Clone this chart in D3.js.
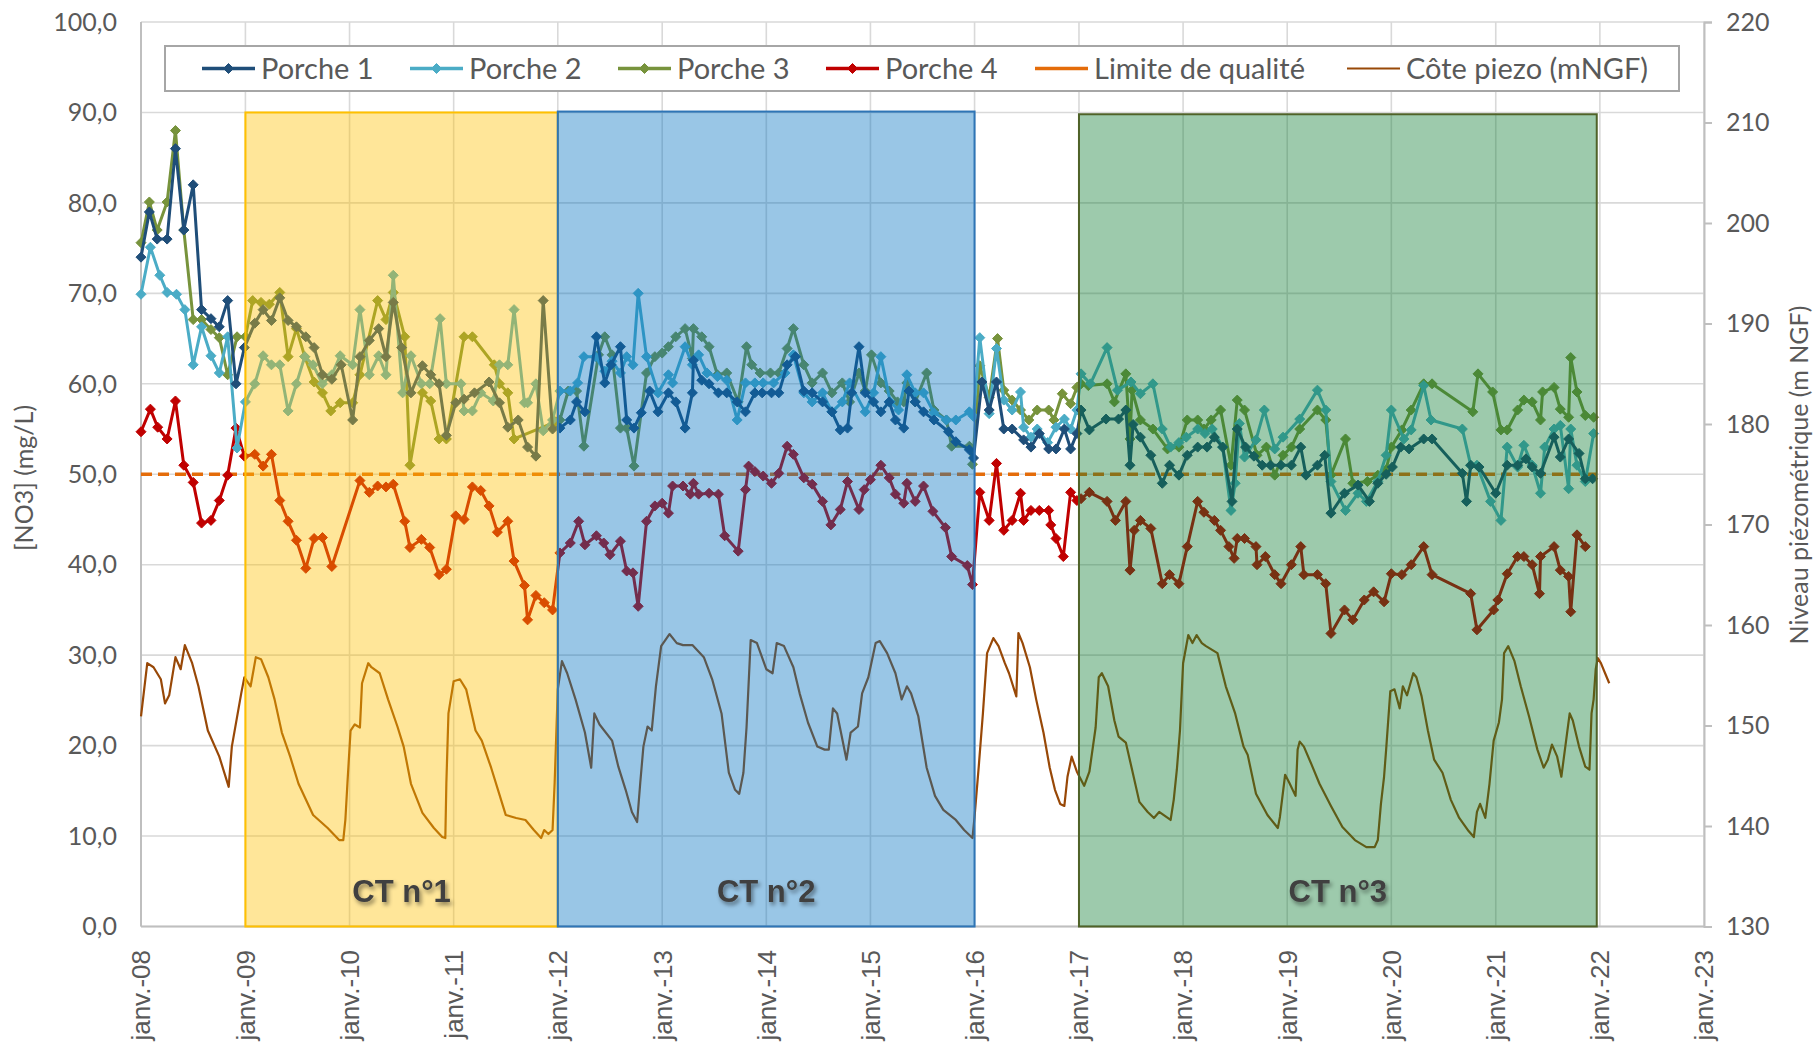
<!DOCTYPE html>
<html>
<head>
<meta charset="utf-8">
<script src="https://cdn.jsdelivr.net/npm/d3@7"></script>
<style>
body { margin: 0; background: #ffffff; }
svg { display: block; }
</style>
</head>
<body>
<svg id="chart"></svg>
<script>
// dates are decimal years, NO3 values in mg/L
var porche1 = [
    [2008.00, 74], [2008.08, 79], [2008.155, 76], [2008.25, 76], [2008.33, 86], [2008.41, 77], [2008.50, 82],
    [2008.58, 68.2], [2008.67, 67.2], [2008.75, 66.3], [2008.83, 69.2], [2008.91, 60], [2008.99, 64],
    [2009.09, 66.7], [2009.17, 68.2], [2009.25, 67], [2009.33, 69.5], [2009.41, 67], [2009.49, 66.3], [2009.58, 65.2],
    [2009.66, 64], [2009.74, 61], [2009.83, 60.5], [2009.92, 62.1], [2010.03, 56], [2010.10, 63], [2010.19, 64.8],
    [2010.28, 66.1], [2010.35, 63], [2010.42, 69], [2010.50, 64], [2010.59, 59], [2010.70, 62], [2010.78, 61],
    [2010.86, 60], [2010.93, 54.3], [2011.02, 57.9], [2011.10, 58.3], [2011.20, 59], [2011.34, 60.2], [2011.44, 57.9],
    [2011.52, 55.2], [2011.62, 56], [2011.71, 53], [2011.79, 52], [2011.86, 69.2], [2011.95, 55],
    [2012.02, 55.1], [2012.12, 56], [2012.18, 58], [2012.26, 56.9], [2012.37, 65.2], [2012.45, 60.1], [2012.51, 62.1],
    [2012.60, 64.1], [2012.66, 56], [2012.73, 55.1], [2012.80, 56.8], [2012.88, 59.2], [2012.96, 56.9], [2013.06, 59],
    [2013.13, 58], [2013.22, 55.1], [2013.29, 59], [2013.30, 62.6], [2013.38, 60.4], [2013.45, 60], [2013.54, 59],
    [2013.62, 59], [2013.72, 58], [2013.80, 56.9], [2013.89, 59], [2013.96, 59], [2014.05, 59], [2014.12, 59],
    [2014.20, 62.1], [2014.28, 63], [2014.36, 59.2], [2014.44, 59], [2014.54, 58], [2014.63, 56.9], [2014.71, 54.9],
    [2014.78, 55.1], [2014.82, 59], [2014.89, 64.1], [2014.95, 59], [2015.03, 58], [2015.10, 56.9], [2015.18, 58],
    [2015.24, 56], [2015.32, 55.1], [2015.37, 59.2], [2015.43, 58], [2015.51, 56.9], [2015.61, 56], [2015.75, 54.7],
    [2015.82, 53.6], [2015.95, 52.7], [2015.99, 51.8],
    [2016.07, 60.2], [2016.14, 57.1], [2016.21, 60.2], [2016.28, 55], [2016.36, 55], [2016.47, 53.8], [2016.54, 53],
    [2016.62, 54.5], [2016.71, 52.8], [2016.78, 52.8], [2016.86, 55], [2016.92, 52.8], [2016.98, 54.5],
    [2017.02, 57.1], [2017.10, 54.9], [2017.26, 56.1], [2017.38, 56.1], [2017.45, 57.1], [2017.49, 51], [2017.52, 55.5],
    [2017.59, 54.1], [2017.69, 52.1], [2017.80, 49], [2017.87, 51], [2017.96, 49.9], [2018.04, 52.1], [2018.14, 53],
    [2018.23, 53], [2018.30, 54.1], [2018.38, 53], [2018.47, 47], [2018.52, 55], [2018.60, 53], [2018.68, 52],
    [2018.76, 51], [2018.84, 51], [2018.94, 51], [2019.04, 51], [2019.13, 53], [2019.18, 49.9], [2019.29, 51],
    [2019.36, 52.1], [2019.42, 45.7], [2019.55, 47.9], [2019.68, 48.8], [2019.79, 47], [2019.87, 49], [2019.95, 50],
    [2020.01, 50.8], [2020.09, 53], [2020.17, 52.8], [2020.31, 53.9], [2020.39, 53.9], [2020.68, 50.1], [2020.72, 47],
    [2020.76, 51], [2020.84, 50.8], [2021.00, 47.9], [2021.11, 51], [2021.21, 51], [2021.29, 51.7], [2021.35, 50.8],
    [2021.43, 50.1], [2021.56, 54.1], [2021.62, 51.9], [2021.70, 53.9], [2021.80, 52.3], [2021.86, 49.5], [2021.93, 49.5]
];

var porche2 = [
    [2008.00, 69.9], [2008.09, 75.1], [2008.18, 72], [2008.25, 70.1], [2008.34, 69.9], [2008.42, 68.2], [2008.50, 62.1],
    [2008.58, 66.3], [2008.67, 63.1], [2008.75, 61.2], [2008.83, 65.2], [2008.92, 52.9], [2009.00, 58],
    [2009.09, 60], [2009.17, 63.1], [2009.25, 62.1], [2009.33, 62.1], [2009.41, 57], [2009.49, 60], [2009.57, 63],
    [2009.65, 62.1], [2009.74, 60], [2009.83, 61], [2009.91, 63.1], [2010.03, 62.1], [2010.10, 68.2], [2010.19, 61],
    [2010.28, 63.1], [2010.35, 61], [2010.42, 72], [2010.51, 59], [2010.59, 63.1], [2010.69, 60], [2010.77, 60],
    [2010.87, 67.2], [2010.93, 60], [2011.07, 60], [2011.10, 57], [2011.18, 57], [2011.26, 59], [2011.38, 58.1],
    [2011.44, 62.1], [2011.52, 62.1], [2011.58, 68.2], [2011.68, 57.9], [2011.71, 57.9], [2011.79, 60], [2011.86, 54.8],
    [2011.95, 56], [2012.02, 59.2], [2012.12, 59.2], [2012.19, 60.1], [2012.25, 63], [2012.36, 63], [2012.45, 61.4],
    [2012.52, 62.5], [2012.60, 61.2], [2012.66, 63], [2012.72, 62.1], [2012.77, 70], [2012.85, 63], [2012.96, 59],
    [2013.06, 61], [2013.10, 60.1], [2013.22, 64.1], [2013.29, 62.1], [2013.35, 63.2], [2013.43, 61.2], [2013.53, 60.8],
    [2013.62, 60.4], [2013.72, 56], [2013.80, 60.1], [2013.89, 60.1], [2013.97, 60.1], [2014.07, 60.1], [2014.18, 61.2],
    [2014.26, 63.2], [2014.36, 59], [2014.44, 58], [2014.54, 59], [2014.63, 56.9], [2014.73, 58], [2014.80, 60.1],
    [2014.95, 56.9], [2015.03, 59], [2015.10, 63], [2015.19, 58], [2015.27, 57.1], [2015.35, 61], [2015.43, 59],
    [2015.51, 59], [2015.61, 56.8], [2015.73, 56], [2015.82, 56], [2015.95, 56.9], [2015.99, 56.4],
    [2016.05, 65.1], [2016.14, 56.7], [2016.21, 63.9], [2016.28, 58.2], [2016.36, 57.1], [2016.44, 59.1], [2016.47, 55.2],
    [2016.54, 54.1], [2016.60, 55], [2016.70, 53.5], [2016.78, 55.2], [2016.86, 56.1], [2016.92, 55], [2016.98, 57.1],
    [2017.02, 61.1], [2017.11, 60], [2017.27, 64], [2017.37, 59.3], [2017.50, 60.2], [2017.59, 58.9], [2017.71, 60],
    [2017.80, 55], [2017.88, 53], [2017.96, 53.5], [2018.03, 54.1], [2018.14, 55], [2018.21, 54.5], [2018.28, 55],
    [2018.38, 53], [2018.46, 46], [2018.50, 49], [2018.54, 55.6], [2018.59, 51.9], [2018.70, 53.8], [2018.78, 57.1],
    [2018.88, 52.8], [2018.96, 54.1], [2019.12, 56.1], [2019.29, 59.3], [2019.37, 57.1], [2019.42, 49.2], [2019.56, 46],
    [2019.68, 47.9], [2019.76, 47], [2019.87, 49.2], [2019.95, 52.1], [2020.00, 57.1], [2020.12, 53.9], [2020.19, 54.9],
    [2020.31, 59.8], [2020.38, 56], [2020.68, 55], [2020.76, 51], [2020.82, 51], [2020.95, 47], [2021.05, 44.9],
    [2021.11, 53], [2021.21, 50.8], [2021.27, 53.2], [2021.35, 51], [2021.43, 47.9], [2021.47, 53], [2021.56, 55],
    [2021.62, 55.4], [2021.70, 48.4], [2021.72, 55], [2021.78, 51], [2021.86, 49.2], [2021.94, 54.5]
];

var porche3 = [
    [2008.00, 75.6], [2008.08, 80.1], [2008.155, 77], [2008.25, 80.1], [2008.33, 88], [2008.41, 77], [2008.50, 67.1],
    [2008.58, 67.1], [2008.67, 66], [2008.75, 65.1], [2008.83, 61], [2008.92, 65.2], [2009.00, 65.2],
    [2009.07, 69.2], [2009.15, 69], [2009.23, 68.8], [2009.33, 70.1], [2009.41, 63], [2009.49, 66.1], [2009.57, 63],
    [2009.66, 60.2], [2009.74, 59], [2009.82, 57], [2009.91, 57.9], [2010.03, 57.9], [2010.10, 61], [2010.27, 69.2],
    [2010.35, 67.1], [2010.42, 70.1], [2010.53, 65.2], [2010.58, 51], [2010.70, 59], [2010.78, 58.1], [2010.86, 53.9],
    [2010.93, 53.9], [2011.10, 65.2], [2011.18, 65.2], [2011.39, 62.1], [2011.44, 60], [2011.52, 59], [2011.58, 53.9],
    [2011.98, 55.8], [2012.02, 56], [2012.10, 59.2], [2012.18, 59.2], [2012.25, 53.1], [2012.39, 63.2], [2012.45, 65.2],
    [2012.52, 63.2], [2012.60, 55.1], [2012.66, 55.1], [2012.73, 50.9], [2012.85, 61.2], [2012.93, 63], [2013.00, 63.4],
    [2013.06, 64.1], [2013.13, 65.2], [2013.22, 66.1], [2013.29, 62.8], [2013.30, 66.1], [2013.38, 65.2], [2013.45, 64.1],
    [2013.53, 61], [2013.62, 61.2], [2013.73, 58], [2013.81, 64.1], [2013.86, 62.1], [2013.94, 61.2], [2014.04, 61.2],
    [2014.12, 61.2], [2014.20, 63.9], [2014.26, 66.1], [2014.36, 62.1], [2014.44, 60.1], [2014.54, 61.2], [2014.63, 59],
    [2014.73, 60.1], [2014.80, 58], [2014.89, 61.2], [2014.95, 59.2], [2015.01, 63.2], [2015.10, 60.1], [2015.18, 59.2],
    [2015.26, 58], [2015.32, 58], [2015.35, 60.1], [2015.43, 58], [2015.54, 61.2], [2015.61, 57.1], [2015.73, 56],
    [2015.78, 53.1], [2015.95, 53.1], [2015.98, 51.1],
    [2016.05, 62], [2016.14, 58.5], [2016.22, 65], [2016.28, 59.3], [2016.36, 58.2], [2016.44, 57.1], [2016.52, 56],
    [2016.60, 57.1], [2016.71, 57.1], [2016.76, 56], [2016.84, 58.9], [2016.92, 57.8], [2016.98, 59.6],
    [2017.02, 60], [2017.09, 59.8], [2017.27, 60], [2017.34, 58], [2017.45, 61.1], [2017.49, 53.9], [2017.51, 59.3],
    [2017.59, 56], [2017.71, 55], [2017.85, 52.8], [2017.96, 53], [2018.04, 56], [2018.14, 56], [2018.20, 55],
    [2018.27, 56], [2018.36, 57.1], [2018.46, 51], [2018.52, 58.2], [2018.59, 57.1], [2018.71, 52.1], [2018.80, 53],
    [2018.88, 49.9], [2018.96, 52.1], [2019.04, 53], [2019.12, 55], [2019.29, 57.1], [2019.37, 56], [2019.42, 49.9],
    [2019.56, 53.9], [2019.63, 49], [2019.77, 49.2], [2019.87, 49.9], [2019.95, 50.5], [2020.00, 53], [2020.10, 54.9],
    [2020.19, 57.1], [2020.31, 60], [2020.39, 60], [2020.78, 56.9], [2020.83, 61.1], [2020.97, 59.1], [2021.05, 54.9],
    [2021.11, 54.9], [2021.21, 57.1], [2021.27, 58.2], [2021.35, 58], [2021.43, 56], [2021.45, 59.1], [2021.56, 59.6],
    [2021.62, 57.2], [2021.70, 56.3], [2021.72, 62.9], [2021.78, 59.1], [2021.86, 56.5], [2021.94, 56.3]
];

var porche4 = [
    [2008.00, 54.7], [2008.09, 57.2], [2008.16, 55.2], [2008.25, 53.9], [2008.33, 58.1], [2008.41, 51], [2008.50, 49.1],
    [2008.58, 44.6], [2008.67, 44.9], [2008.75, 47.1], [2008.83, 49.9], [2008.91, 55.1], [2008.99, 52],
    [2009.09, 52.2], [2009.17, 50.9], [2009.25, 52.2], [2009.33, 47.1], [2009.41, 44.8], [2009.49, 42.7], [2009.58, 39.6],
    [2009.66, 42.9], [2009.74, 43], [2009.83, 39.8], [2010.10, 49.3], [2010.19, 48], [2010.27, 48.7], [2010.35, 48.6],
    [2010.42, 48.9], [2010.53, 44.8], [2010.58, 41.9], [2010.69, 42.8], [2010.77, 41.9], [2010.86, 38.9], [2010.93, 39.5],
    [2011.02, 45.4], [2011.10, 45], [2011.18, 48.6], [2011.26, 48.2], [2011.34, 46.5], [2011.42, 43.6], [2011.52, 44.8],
    [2011.58, 40.4], [2011.68, 37.7], [2011.71, 33.9], [2011.79, 36.6], [2011.87, 35.8], [2011.95, 35],
    [2012.02, 41.3], [2012.12, 42.4], [2012.20, 44.8], [2012.26, 42.2], [2012.37, 43.2], [2012.44, 42.4], [2012.50, 41.1],
    [2012.60, 42.6], [2012.66, 39.3], [2012.72, 39.1], [2012.77, 35.4], [2012.85, 44.8], [2012.93, 46.5], [2013.00, 46.8],
    [2013.06, 45.7], [2013.10, 48.7], [2013.20, 48.7], [2013.27, 47.8], [2013.30, 49], [2013.35, 47.8], [2013.45, 47.9],
    [2013.54, 47.8], [2013.60, 43.2], [2013.73, 41.5], [2013.80, 48.3], [2013.83, 50.9], [2013.89, 50.3], [2013.97, 49.8],
    [2014.05, 49], [2014.12, 50.1], [2014.20, 53.1], [2014.26, 52.2], [2014.36, 49.6], [2014.44, 48.9], [2014.54, 47],
    [2014.62, 44.4], [2014.71, 46.1], [2014.78, 49.2], [2014.89, 46.1], [2014.94, 48.3], [2015.00, 49.4], [2015.10, 51],
    [2015.18, 49.6], [2015.24, 47.8], [2015.32, 46.8], [2015.35, 49], [2015.43, 47], [2015.51, 48.7], [2015.60, 45.9],
    [2015.72, 44.1], [2015.78, 40.9], [2015.93, 39.9], [2015.98, 37.8],
    [2016.05, 48], [2016.14, 44.9], [2016.21, 51.2], [2016.28, 43.8], [2016.36, 44.9], [2016.44, 47.9], [2016.47, 44.9],
    [2016.54, 46], [2016.62, 46], [2016.71, 46], [2016.73, 44.4], [2016.78, 42.9], [2016.85, 40.9], [2016.92, 48],
    [2016.98, 47.1], [2017.02, 47.3], [2017.10, 48], [2017.27, 47], [2017.35, 44.9], [2017.45, 47], [2017.49, 39.4],
    [2017.53, 43.8], [2017.59, 44.9], [2017.69, 44], [2017.80, 37.9], [2017.87, 38.9], [2017.96, 37.9], [2018.04, 42],
    [2018.14, 47], [2018.20, 45.8], [2018.30, 44.9], [2018.36, 43.8], [2018.44, 42], [2018.49, 40.7], [2018.52, 42.9],
    [2018.59, 42.9], [2018.70, 42], [2018.71, 40], [2018.79, 40.9], [2018.88, 38.9], [2018.94, 37.9], [2019.04, 40],
    [2019.13, 42], [2019.16, 38.9], [2019.29, 38.9], [2019.37, 37.9], [2019.42, 32.4], [2019.55, 35], [2019.63, 33.9],
    [2019.74, 36.1], [2019.83, 37], [2019.93, 35.9], [2020.00, 39], [2020.10, 38.9], [2020.19, 40], [2020.31, 42],
    [2020.39, 38.9], [2020.76, 36.8], [2020.82, 32.8], [2020.98, 35], [2021.02, 36.1], [2021.11, 39], [2021.21, 40.9],
    [2021.27, 40.9], [2021.35, 40], [2021.42, 36.8], [2021.43, 40.9], [2021.56, 42], [2021.62, 39.4], [2021.70, 38.7],
    [2021.72, 34.8], [2021.78, 43.3], [2021.86, 42]
];

// piezometric level, m NGF (right axis)
var piezo = [
    [2008.00, 150.9], [2008.06, 156.2], [2008.12, 155.8], [2008.19, 154.6], [2008.23, 152.2], [2008.27, 153.0],
    [2008.33, 156.8], [2008.38, 155.6], [2008.42, 158.0], [2008.49, 156.2], [2008.55, 153.9], [2008.64, 149.5],
    [2008.75, 146.9], [2008.84, 143.9], [2008.87, 147.9], [2008.96, 153.2], [2008.99, 154.8], [2009.05, 153.9],
    [2009.10, 156.8], [2009.15, 156.6], [2009.22, 154.8], [2009.28, 152.6], [2009.35, 149.3], [2009.43, 146.9],
    [2009.51, 144.2], [2009.65, 141.1], [2009.79, 139.8], [2009.90, 138.6], [2009.94, 138.6], [2009.96, 140.6],
    [2009.98, 144.3], [2010.01, 149.5], [2010.05, 150.1], [2010.10, 149.8], [2010.12, 154.2], [2010.18, 156.2],
    [2010.21, 155.8], [2010.29, 155.2], [2010.37, 152.6], [2010.46, 149.9], [2010.52, 147.9], [2010.59, 144.2],
    [2010.70, 141.3], [2010.81, 139.8], [2010.89, 138.9], [2010.92, 138.8], [2010.93, 144.3], [2010.95, 151.2],
    [2011.00, 154.4], [2011.06, 154.6], [2011.12, 153.6], [2011.21, 149.5], [2011.27, 148.5], [2011.36, 145.8],
    [2011.50, 141.1], [2011.60, 140.8], [2011.69, 140.6], [2011.77, 139.6], [2011.84, 138.8], [2011.87, 139.6],
    [2011.91, 139.2], [2011.95, 139.6], [2011.97, 144.3], [2012.00, 153.6], [2012.04, 156.4], [2012.09, 155.2],
    [2012.17, 152.6], [2012.26, 149.3], [2012.32, 145.8], [2012.35, 151.2], [2012.40, 150.1], [2012.52, 148.5],
    [2012.58, 145.9], [2012.65, 143.6], [2012.71, 141.4], [2012.76, 140.4], [2012.79, 144.3], [2012.82, 147.9],
    [2012.86, 149.9], [2012.90, 149.5], [2012.94, 153.9], [2012.99, 157.9], [2013.07, 159.1], [2013.14, 158.2],
    [2013.20, 158.0], [2013.29, 158.0], [2013.40, 156.8], [2013.48, 154.6], [2013.57, 151.2], [2013.64, 145.3],
    [2013.70, 143.6], [2013.74, 143.2], [2013.78, 145.3], [2013.81, 149.8], [2013.85, 158.5], [2013.91, 158.2],
    [2014.00, 155.6], [2014.06, 155.2], [2014.10, 158.2], [2014.17, 157.9], [2014.26, 155.8], [2014.32, 153.2],
    [2014.40, 150.3], [2014.49, 147.9], [2014.56, 147.6], [2014.60, 147.6], [2014.64, 151.7], [2014.68, 151.2],
    [2014.77, 146.6], [2014.81, 149.3], [2014.88, 149.9], [2014.92, 153.2], [2014.98, 154.8], [2015.05, 158.2],
    [2015.09, 158.4], [2015.16, 157.2], [2015.24, 155.2], [2015.30, 152.6], [2015.35, 153.9], [2015.39, 153.2],
    [2015.46, 150.9], [2015.54, 145.8], [2015.62, 143.0], [2015.70, 141.6], [2015.82, 140.6], [2015.90, 139.6],
    [2015.98, 138.8], [2016.00, 140.9], [2016.04, 145.9], [2016.08, 151.2], [2016.12, 157.2], [2016.18, 158.7],
    [2016.23, 157.9], [2016.29, 156.2], [2016.33, 155.2], [2016.40, 152.9], [2016.42, 159.2], [2016.46, 158.2],
    [2016.53, 155.8], [2016.59, 152.6], [2016.66, 149.3], [2016.72, 145.8], [2016.77, 143.6], [2016.82, 142.2],
    [2016.86, 142.0], [2016.89, 144.9], [2016.93, 146.9], [2016.98, 145.4], [2017.05, 144.0], [2017.10, 145.4],
    [2017.16, 149.8], [2017.19, 154.8], [2017.22, 155.2], [2017.28, 153.9], [2017.34, 150.5], [2017.38, 148.9],
    [2017.45, 148.3], [2017.51, 145.6], [2017.58, 142.4], [2017.66, 141.4], [2017.72, 140.8], [2017.77, 141.4],
    [2017.88, 140.6], [2017.91, 142.6], [2017.94, 145.6], [2017.97, 149.5], [2018.00, 156.2], [2018.05, 159.0],
    [2018.09, 158.2], [2018.13, 159.0], [2018.18, 158.2], [2018.22, 157.9], [2018.33, 157.2], [2018.41, 153.9],
    [2018.50, 151.2], [2018.58, 147.9], [2018.62, 147.1], [2018.70, 143.2], [2018.81, 141.1], [2018.91, 139.8],
    [2018.93, 140.9], [2018.98, 145.1], [2019.02, 144.3], [2019.08, 143.0], [2019.10, 147.6], [2019.12, 148.4],
    [2019.16, 147.9], [2019.23, 146.2], [2019.31, 144.2], [2019.42, 142.0], [2019.53, 139.9], [2019.65, 138.6],
    [2019.76, 137.9], [2019.84, 137.9], [2019.87, 138.6], [2019.90, 142.2], [2019.93, 144.9], [2019.95, 147.6],
    [2019.99, 153.4], [2020.03, 153.6], [2020.08, 151.7], [2020.11, 153.9], [2020.15, 153.0], [2020.21, 155.2],
    [2020.24, 154.8], [2020.29, 152.9], [2020.35, 149.5], [2020.41, 146.6], [2020.49, 145.3], [2020.57, 142.6],
    [2020.65, 140.8], [2020.74, 139.5], [2020.79, 138.9], [2020.82, 141.4], [2020.85, 142.2], [2020.90, 140.8],
    [2020.94, 144.2], [2020.98, 148.5], [2021.03, 150.3], [2021.06, 152.6], [2021.08, 157.2], [2021.12, 157.9],
    [2021.18, 156.4], [2021.24, 153.9], [2021.32, 150.9], [2021.40, 147.6], [2021.46, 145.8], [2021.50, 146.6],
    [2021.54, 148.1], [2021.59, 146.9], [2021.63, 144.9], [2021.71, 151.2], [2021.74, 150.5], [2021.80, 147.9],
    [2021.86, 145.9], [2021.90, 145.6], [2021.92, 151.2], [2021.94, 152.6], [2021.96, 155.6], [2021.98, 156.7],
    [2022.01, 156.2], [2022.05, 155.2], [2022.09, 154.2]
];

var limiteQualite = 50;
var limiteRange = [2008.00, 2021.97];

// campagnes de traitement (CT)
var ctLabels = ["CT n°1", "CT n°2", "CT n°3"];
var ctStart = [2009.00, 2012.00, 2017.00];
var ctEnd = [2012.00, 2016.00, 2021.97];
var ctTop = [90, 90.1, 89.8];

var legendNames = ["Porche 1", "Porche 2", "Porche 3", "Porche 4", "Limite de qualité", "Côte piezo (mNGF)"];

var yLeftTicks = [0, 10, 20, 30, 40, 50, 60, 70, 80, 90, 100];
var yRightTicks = [130, 140, 150, 160, 170, 180, 190, 200, 210, 220];

function yearToDate(y)
{
    var yr = Math.floor(y);
    var start = new Date(yr, 0, 1);
    var end = new Date(yr + 1, 0, 1);
    return new Date(start.getTime() + (y - yr) * (end.getTime() - start.getTime()));
}

var width = 1814, height = 1055;
var plot = { left: 141, right: 1704, top: 22, bottom: 926.5 };
var gray = "#595959";
var calibriLike = "Lato, 'Open Sans', sans-serif";

var svg = d3.select("#chart").attr("width", width).attr("height", height);

var x = d3.scaleTime()
    .domain([new Date(2008, 0, 1), new Date(2023, 0, 1)])
    .range([plot.left, plot.right]);
var yLeft = d3.scaleLinear().domain([0, 100]).range([plot.bottom, plot.top]);
var yRight = d3.scaleLinear().domain([130, 220]).range([plot.bottom, plot.top]);

var yearTicks = d3.timeYear.range(new Date(2008, 0, 1), new Date(2023, 0, 2));

// Gridlines
var grid = svg.append("g");
grid.selectAll("line.h").data(yLeftTicks).enter().append("line")
    .attr("x1", plot.left).attr("x2", plot.right)
    .attr("y1", function(d) { return yLeft(d); })
    .attr("y2", function(d) { return yLeft(d); })
    .style("stroke", "#d9d9d9").style("stroke-width", 1.6);
grid.selectAll("line.v").data(yearTicks).enter().append("line")
    .attr("x1", function(d) { return x(d); })
    .attr("x2", function(d) { return x(d); })
    .attr("y1", plot.top).attr("y2", plot.bottom)
    .style("stroke", "#d9d9d9").style("stroke-width", 1.6);

// Axes lines
svg.append("line").attr("x1", plot.left).attr("x2", plot.left).attr("y1", plot.top).attr("y2", plot.bottom)
    .style("stroke", "#bfbfbf").style("stroke-width", 2);
svg.append("line").attr("x1", plot.left).attr("x2", plot.right).attr("y1", plot.bottom).attr("y2", plot.bottom)
    .style("stroke", "#bfbfbf").style("stroke-width", 2);

var rightAxis = d3.axisRight(yRight).tickValues(yRightTicks).tickSize(8).tickPadding(14).tickFormat(d3.format("d"));
var ra = svg.append("g").attr("transform", "translate(" + plot.right + ",0)").call(rightAxis);
ra.select(".domain").style("stroke", "#bfbfbf").style("stroke-width", 2);
ra.selectAll(".tick line").style("stroke", "#bfbfbf").style("stroke-width", 2);
ra.selectAll(".tick text").style("font-family", calibriLike).style("font-size", "25px").style("fill", gray);

// Left tick labels
svg.append("g").selectAll("text").data(yLeftTicks).enter().append("text")
    .attr("x", 117)
    .attr("y", function(d) { return yLeft(d); })
    .attr("dy", "0.35em")
    .attr("text-anchor", "end")
    .style("font-family", calibriLike).style("font-size", "25px").style("fill", gray)
    .text(function(d) { return d3.format(".1f")(d).replace(".", ","); });

// Bottom tick labels
var fmtYear = d3.timeFormat("%y");
svg.append("g").selectAll("text").data(yearTicks).enter().append("text")
    .attr("transform", function(d) { return "translate(" + x(d) + ",950) rotate(-90)"; })
    .attr("dy", "0.36em")
    .attr("text-anchor", "end")
    .style("font-family", "'Liberation Sans', Arial, sans-serif").style("font-size", "26px").style("fill", gray)
    .text(function(d) { return "janv.-" + fmtYear(d); });

// Axis titles
svg.append("text")
    .attr("transform", "translate(33,478) rotate(-90)")
    .attr("text-anchor", "middle")
    .style("font-family", calibriLike).style("font-size", "25px").style("fill", gray)
    .text("[NO3] (mg/L)");
svg.append("text")
    .attr("transform", "translate(1808,475) rotate(-90)")
    .attr("text-anchor", "middle")
    .style("font-family", calibriLike).style("font-size", "25px").style("fill", gray)
    .text("Niveau piézométrique (m NGF)");

var series = [
    { name: legendNames[0], data: porche1, color: "#1f4e79" },
    { name: legendNames[1], data: porche2, color: "#4bacc6" },
    { name: legendNames[2], data: porche3, color: "#77933c" },
    { name: legendNames[3], data: porche4, color: "#c00000" }
];
var limiteColor = "#e46c0a";
var piezoColor = "#984807";
var diamond = "M0,-5L5,0L0,5L-5,0Z";

var marks = svg.append("g");

// Piezometric level
var piezoLine = d3.line()
    .x(function(d) { return x(yearToDate(d[0])); })
    .y(function(d) { return yRight(d[1]); });
marks.append("path")
    .attr("d", piezoLine(piezo))
    .attr("fill", "none")
    .style("stroke", piezoColor).style("stroke-width", 2.2).style("stroke-linejoin", "round");

// Quality limit
marks.append("line")
    .attr("x1", x(yearToDate(limiteRange[0]))).attr("x2", x(yearToDate(limiteRange[1])))
    .attr("y1", yLeft(limiteQualite)).attr("y2", yLeft(limiteQualite))
    .style("stroke", limiteColor).style("stroke-width", 3.5).style("stroke-dasharray", "11,6");

// NO3 series, drawn last to first
var no3Line = d3.line()
    .x(function(d) { return x(yearToDate(d[0])); })
    .y(function(d) { return yLeft(d[1]); });
for (var si = series.length - 1; si >= 0; si--)
{
    var s = series[si];
    var g = marks.append("g");
    g.append("path")
        .attr("d", no3Line(s.data))
        .attr("fill", "none")
        .style("stroke", s.color).style("stroke-width", 3).style("stroke-linejoin", "round");
    g.selectAll("path.m").data(s.data).enter().append("path")
        .attr("d", diamond)
        .attr("transform", function(d) { return "translate(" + x(yearToDate(d[0])) + "," + yLeft(d[1]) + ")"; })
        .style("fill", s.color).style("stroke", s.color).style("stroke-width", 1);
}

// Treatment periods, translucent shapes on top of the curves
var ctFill = ["#ffc000", "#0070c0", "#0a7a30"];
var ctStroke = ["#ffc000", "#2e75b6", "#4f6228"];
var ctText = svg.append("defs").append("filter").attr("id", "shadow")
    .attr("x", "-20%").attr("y", "-40%").attr("width", "140%").attr("height", "180%");
ctText.append("feDropShadow").attr("dx", 2).attr("dy", 3).attr("stdDeviation", 2)
    .attr("flood-color", "#000").attr("flood-opacity", 0.45);

for (var ci = 0; ci < ctLabels.length; ci++)
{
    var x0 = x(yearToDate(ctStart[ci]));
    var x1 = x(yearToDate(ctEnd[ci]));
    var yTop = yLeft(ctTop[ci]);

    svg.append("rect")
        .attr("x", x0).attr("y", yTop)
        .attr("width", x1 - x0).attr("height", plot.bottom - yTop)
        .style("fill", ctFill[ci]).style("fill-opacity", 0.4)
        .style("stroke", ctStroke[ci]).style("stroke-width", 2);

    svg.append("text")
        .attr("x", (x0 + x1) / 2)
        .attr("y", yLeft(2.7))
        .attr("text-anchor", "middle")
        .attr("filter", "url(#shadow)")
        .style("font-family", "'Liberation Sans', Arial, sans-serif")
        .style("font-weight", "bold").style("font-size", "31px").style("fill", "#404040")
        .text(ctLabels[ci]);
}

// Legend
var legend = svg.append("g");
legend.append("rect")
    .attr("x", 165).attr("y", 46).attr("width", 1514).attr("height", 45)
    .style("fill", "#ffffff").style("stroke", "#a6a6a6").style("stroke-width", 2);

var legendX = [202, 410, 618, 826, 1035, 1347];
var legendColors = [series[0].color, series[1].color, series[2].color, series[3].color, limiteColor, piezoColor];
for (var li = 0; li < legendNames.length; li++)
{
    var lx = legendX[li];
    legend.append("line")
        .attr("x1", lx).attr("x2", lx + 53).attr("y1", 68.5).attr("y2", 68.5)
        .style("stroke", legendColors[li]).style("stroke-width", li == 5 ? 2.2 : 3.5);
    if (li < 4)
    {
        legend.append("path")
            .attr("d", diamond)
            .attr("transform", "translate(" + (lx + 26.5) + ",68.5)")
            .style("fill", legendColors[li]).style("stroke", legendColors[li]);
    }
    legend.append("text")
        .attr("x", lx + 59).attr("y", 68.5).attr("dy", "0.35em")
        .style("font-family", calibriLike).style("font-size", "29px").style("fill", gray)
        .text(legendNames[li]);
}
</script>
</body>
</html>
